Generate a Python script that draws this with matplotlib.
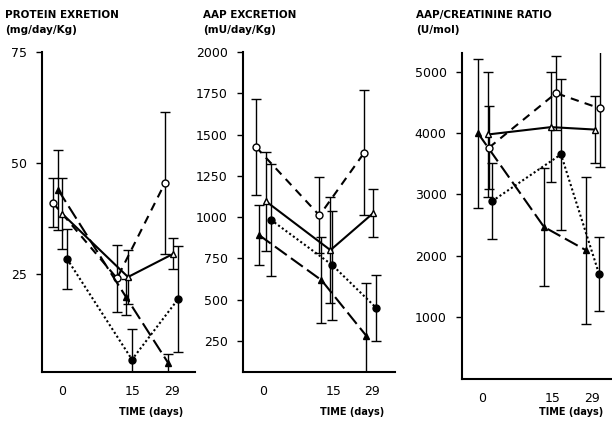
import matplotlib
matplotlib.use("Agg")
import matplotlib.pyplot as plt

# ---------------- data ----------------
days = ["0", "15", "29"]
tick_pos = [0, 71, 110]          # display positions of day ticks

# Panel 1: protein excretion (mg/day/Kg)
p1_open_circle = [41, 24, 45.5]
p1_open_circle_err = [5.5, 7.5, 16]
p1_open_tri = [38.6, 24.3, 29.5]
p1_open_tri_err = [8, 6, 3.5]
p1_fill_circle = [28.4, 5.7, 19.3]
p1_fill_circle_err = [6.8, 6.8, 12]
p1_fill_tri = [44, 19.8, 5]
p1_fill_tri_err = [9, 4, 2]

# Panel 2: AAP excretion (mU/day/Kg)
p2_open_circle = [1425, 1010, 1390]
p2_open_circle_err = [290, 230, 380]
p2_open_tri = [1096, 800, 1024]
p2_open_tri_err = [300, 320, 145]
p2_fill_circle = [984, 709, 451]
p2_fill_circle_err = [340, 330, 200]
p2_fill_tri = [892, 618, 282]
p2_fill_tri_err = [180, 260, 320]

# Panel 3: AAP/creatinine ratio (U/mol)
p3_open_circle = [3765, 4655, 4405]
p3_open_circle_err = [680, 600, 950]
p3_open_tri = [3980, 4100, 4060]
p3_open_tri_err = [1020, 900, 550]
p3_fill_circle = [2890, 3655, 1705]
p3_fill_circle_err = [620, 1230, 600]
p3_fill_tri = [4000, 2470, 2090]
p3_fill_tri_err = [1220, 960, 1200]

# ---------------- styling ----------------
styles = {
    "oc": dict(marker="o", mfc="white", ls=(0, (4, 3))),
    "ot": dict(marker="^", mfc="white", ls="-"),
    "fc": dict(marker="o", mfc="black", ls=(0, (1, 1.2))),
    "ft": dict(marker="^", mfc="black", ls=(0, (7, 2.5))),
}

panels = [
    dict(rect=[42, 195, 52, 372], ylim=(2.9, 75), yticks=[25, 50, 75],
         title=["PROTEIN EXRETION", "(mg/day/Kg)"], tx=5,
         series=[("oc", p1_open_circle, p1_open_circle_err, [-9, -16, -7]),
                 ("ot", p1_open_tri, p1_open_tri_err, [0, -5, 1]),
                 ("ft", p1_fill_tri, p1_fill_tri_err, [-4, -7, -4]),
                 ("fc", p1_fill_circle, p1_fill_circle_err, [5, -1, 6])]),
    dict(rect=[243, 395, 52, 372], ylim=(62, 2000),
         yticks=[250, 500, 750, 1000, 1250, 1500, 1750, 2000],
         title=["AAP EXCRETION", "(mU/day/Kg)"], tx=203,
         series=[("oc", p2_open_circle, p2_open_circle_err, [-7, -14, -8]),
                 ("ot", p2_open_tri, p2_open_tri_err, [3, -3, 1]),
                 ("fc", p2_fill_circle, p2_fill_circle_err, [8, -1, 4]),
                 ("ft", p2_fill_tri, p2_fill_tri_err, [-4, -12, -6])]),
    dict(rect=[462, 615, 53, 379], ylim=(-12, 5310),
         yticks=[1000, 2000, 3000, 4000, 5000],
         title=["AAP/CREATININE RATIO", "(U/mol)"], tx=416,
         series=[("ft", p3_fill_tri, p3_fill_tri_err, [-4, -9, -6]),
                 ("ot", p3_open_tri, p3_open_tri_err, [6, -2, 3]),
                 ("oc", p3_open_circle, p3_open_circle_err, [7, 3, 8]),
                 ("fc", p3_fill_circle, p3_fill_circle_err, [10, 8, 7])]),
]

W, H = 612, 423
fig = plt.figure(figsize=(W / 100, H / 100), dpi=100)
plt.rcParams["font.family"] = ["DejaVu Sans"]

for p in panels:
    l, r, t, b = p["rect"]
    ax = fig.add_axes([l / W, 1 - b / H, (r - l) / W, (b - t) / H])
    ax.set_xlim(-20, 133)
    ax.set_ylim(*p["ylim"])
    for key, vals, errs, offs in p["series"]:
        st = styles[key]
        xs = [tp + o for tp, o in zip(tick_pos, offs)]
        ax.errorbar(xs, vals, yerr=errs, fmt="none", ecolor="black",
                    elinewidth=1.0, capsize=3.5, capthick=1.0, zorder=2,
                    clip_on=True)
        ax.plot(xs, vals, color="black", lw=1.5, ls=st["ls"],
                marker=st["marker"], ms=5, mfc=st["mfc"], mec="black",
                mew=1.0, zorder=3)
    for s in ["top", "right"]:
        ax.spines[s].set_visible(False)
    ax.spines["left"].set_linewidth(1.5)
    ax.spines["bottom"].set_linewidth(1.5)
    ax.set_yticks(p["yticks"])
    ax.set_yticklabels([str(v) for v in p["yticks"]], fontsize=9)
    ax.set_xticks(tick_pos)
    ax.set_xticklabels(days, fontsize=9)
    ax.tick_params(axis="y", length=4, width=1, pad=7)
    ax.tick_params(axis="x", length=0, pad=9)
    ax.patch.set_alpha(0)
    # title lines
    fig.text(p["tx"] / W, 1 - 15 / H, p["title"][0], fontsize=7.5,
             fontweight="bold", va="center", ha="left")
    fig.text(p["tx"] / W, 1 - 30 / H, p["title"][1], fontsize=7.5,
             fontweight="bold", va="center", ha="left")
    # x label
    fig.text((l + 20 + 89) / W, 1 - 412 / H, "TIME (days)", fontsize=7,
             fontweight="bold", va="center", ha="center")

fig.savefig("out.png", dpi=100)
